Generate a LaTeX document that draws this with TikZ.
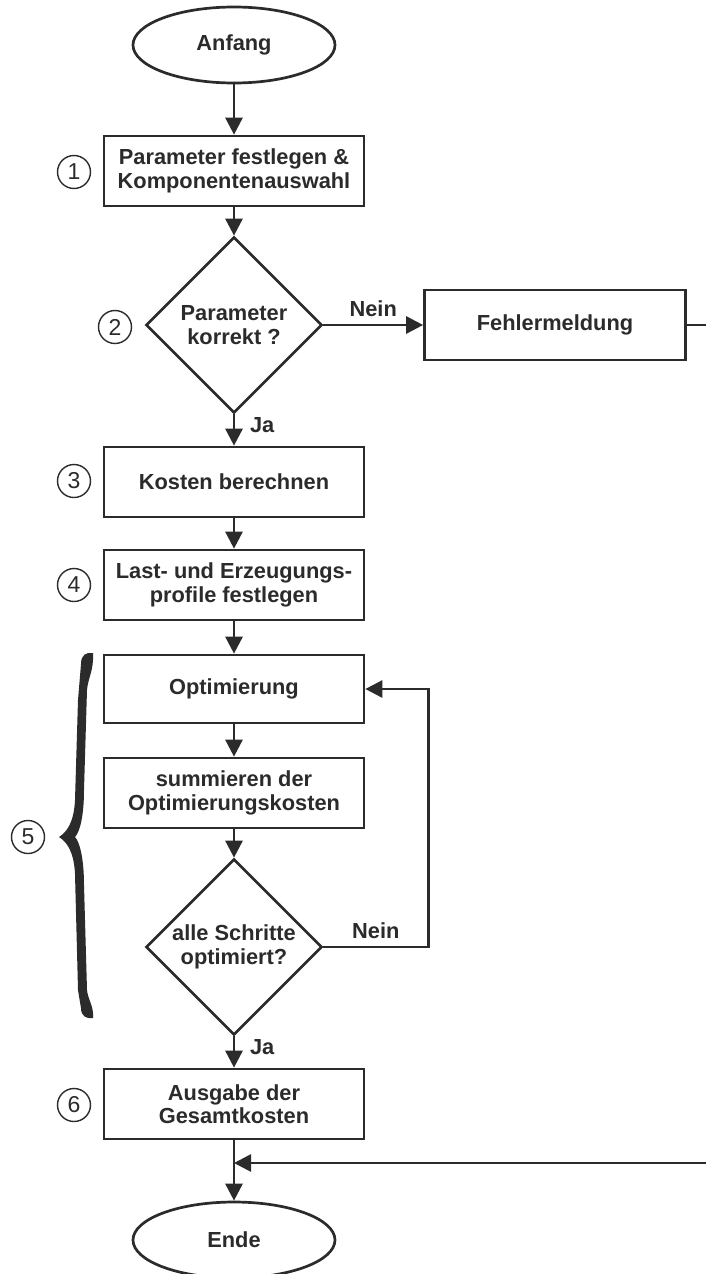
\documentclass[tikz,border=0pt]{standalone}
\usepackage{fontspec}
\setmainfont{Liberation Sans}
\usetikzlibrary{shapes.geometric, arrows.meta}
\definecolor{ink}{HTML}{2B2B2B}

\begin{document}
\begin{tikzpicture}[x=0.5pt, y=-0.5pt, line width=1.35pt, draw=ink, text=ink,
    >={Triangle[length=8.5pt, width=8.5pt]},
    every node/.style={font=\bfseries\fontsize{10.9}{11.7}\selectfont, align=center},
    terminal/.style={draw, ellipse, minimum width=101pt, minimum height=38pt, inner sep=0pt},
    stepbox/.style={draw, rectangle, minimum width=130pt, minimum height=35pt, inner sep=0pt},
    decision/.style={draw, diamond, aspect=1, minimum size=88pt, inner sep=0pt},
    stepnum/.style={draw, circle, line width=0.7pt, minimum size=16.5pt, inner sep=0pt,
        font=\fontsize{11.5}{11.5}\selectfont}]
    \path[use as bounding box, fill=white] (0,0) rectangle (706,1274);

    % Main flow
    \node[terminal] (start) at (234,45) {Anfang};
    \node[stepbox] (params) at (234,171) {Parameter festlegen \&\\Komponentenauswahl};
    \node[decision] (check1) at (234,325) {Parameter\\korrekt ?};
    \node[stepbox, minimum width=130.5pt] (error) at (555,325) {Fehlermeldung};
    \node[stepbox] (costs) at (234,482) {Kosten berechnen};
    \node[stepbox] (profiles) at (234,585) {Last- und Erzeugungs-\\profile festlegen};
    \node[stepbox, minimum height=34pt] (opt) at (234,689) {Optimierung};
    \node[stepbox] (sum) at (234,793) {summieren der\\Optimierungskosten};
    \node[decision] (check2) at (234,947) {alle Schritte\\optimiert?};
    \node[stepbox] (output) at (234,1104) {Ausgabe der\\Gesamtkosten};
    \node[terminal] (stop) at (234,1240) {Ende};

    % Step numbers
    \node[stepnum] (n1) at (74,172) {1};
    \node[stepnum] (n2) at (115,327) {2};
    \node[stepnum] (n3) at (74,481) {3};
    \node[stepnum] (n4) at (74,585) {4};
    \node[stepnum] (n5) at (28,837) {5};
    \node[stepnum] (n6) at (74,1105) {6};

    % Brace of step 5
    \fill[ink] (93,653) .. controls (86,652) and (81,655) .. (81,664)
        -- (78,700) -- (75,800) .. controls (74,822) and (67,832) .. (59,837)
        .. controls (67,842) and (74,852) .. (75,874) -- (78,990)
        -- (81,1008) .. controls (81,1016) and (86,1019) .. (93,1018)
        .. controls (94,1006) and (88,1000) .. (87,990)
        -- (84,885) .. controls (84,860) and (80,842) .. (75,837)
        .. controls (80,832) and (84,815) .. (84,790)
        -- (87,690) .. controls (88,678) and (94,670) .. cycle;

    % Arrows
    \draw[->] (start) -- (params);
    \draw[->] (params) -- (check1);
    \draw[->] (check1) -- node[above] {Nein} (error);
    \draw[->] (check1) -- node[pos=0.35, right=4pt] {Ja} (costs);
    \draw[->] (costs) -- (profiles);
    \draw[->] (profiles) -- (opt);
    \draw[->] (opt) -- (sum);
    \draw[->] (sum) -- (check2);
    \draw[->] (check2.east) -- ++(105,0) node[midway, above] {Nein} |- (opt.east);
    \draw[->] (check2) -- node[pos=0.35, right=4pt] {Ja} (output);
    \draw[->] (output) -- (stop);

    % Error path leaving the picture
    \coordinate (errout) at (706,325);
    \coordinate (errin) at (706,1163);
    \draw (error.east) -- (errout);
    \draw[->] (errin) -- (output.south |- errin);
\end{tikzpicture}
\end{document}
